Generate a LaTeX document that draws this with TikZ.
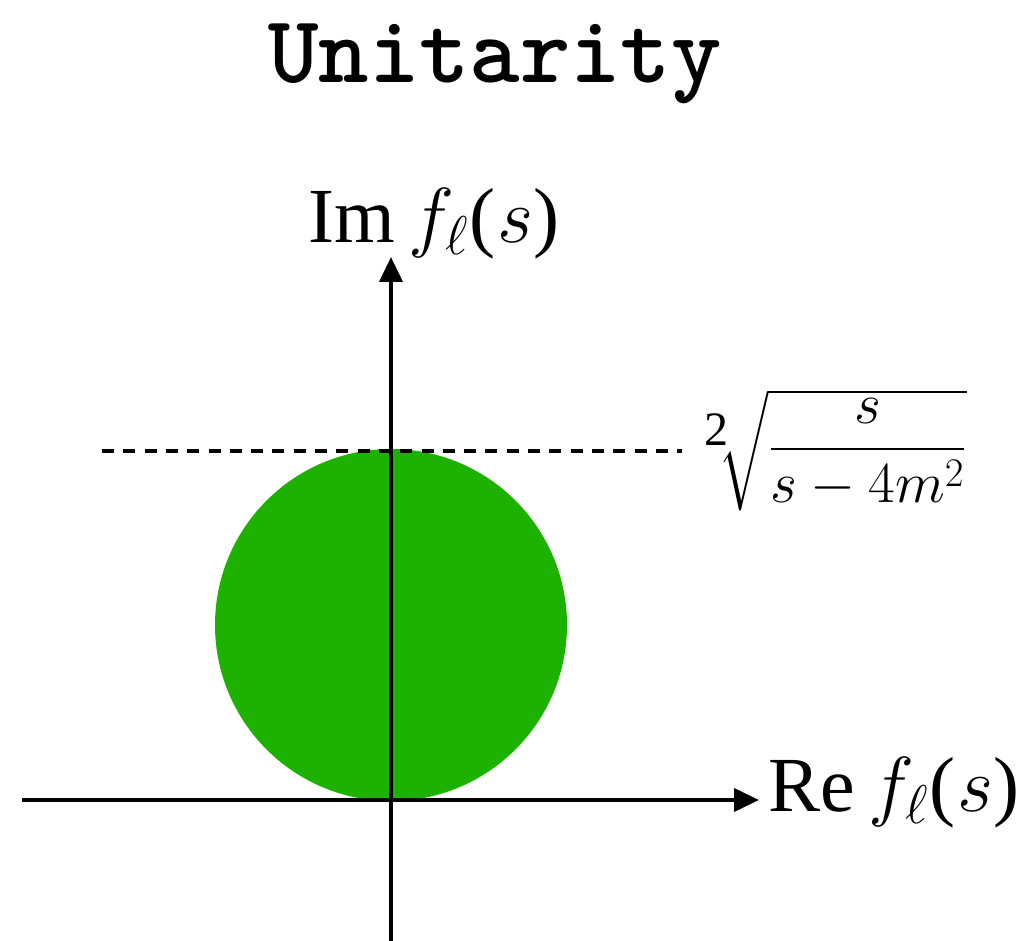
\RequirePackage{fix-cm}
\documentclass[tikz,border=0pt]{standalone}
\usepackage{amsmath}
\usepackage{fontspec}
\setmainfont{Liberation Serif}
\usetikzlibrary{arrows.meta}
\definecolor{disk}{RGB}{30,178,0}

\begin{document}
\begin{tikzpicture}[x=0.5pt, y=-0.5pt,
    axis/.style={line width=2pt, -{Triangle[length=12.5pt,width=11.5pt]}},
    bound/.style={line width=2.4pt, dash pattern=on 6pt off 4.65pt},
    biglabel/.style={font=\fontsize{39}{44}\selectfont, inner sep=0pt}]
  \useasboundingbox (0,0) rectangle (1030,941);
  % title
  \node[anchor=base, inner sep=0pt, font=\fontsize{48}{52}\selectfont\ttfamily\bfseries] (title) at (495,83) {Unitarity};
  % unitarity disk
  \fill[disk] (391,625) circle[radius=176];
  % bound
  \coordinate (bl) at (102,451);
  \coordinate (br) at (682,451);
  \draw[bound] (bl) -- (br);
  \node[anchor=west, inner sep=0pt, font=\fontsize{29}{33}\selectfont] (bnd) at (704,450)
    {$\raisebox{0.3em}{\fontsize{24}{28}\selectfont 2}\!\sqrt{\dfrac{s}{s-4m^2}}$};
  % axes
  \coordinate (xl) at (22,800);
  \coordinate (xr) at (759,800);
  \coordinate (yb) at (391,941);
  \coordinate (yt) at (391,257);
  \draw[axis] (xl) -- (xr);
  \draw[axis] (yb) -- (yt);
  \node[biglabel, anchor=base west] (re) at (768,812) {Re\,$f_\ell$(\kern1pt$s$)};
  \node[biglabel, anchor=base west] (im) at (308,243) {Im\,$f_\ell$(\kern1pt$s$)};
\end{tikzpicture}
\end{document}
